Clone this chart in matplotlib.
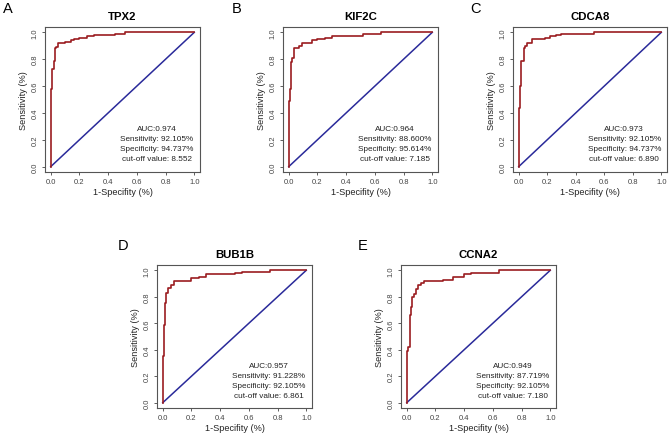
import matplotlib.pyplot as plt
import numpy as np

plt.rcParams['font.family'] = ['Liberation Sans', 'DejaVu Sans']

genes = ["TPX2", "KIF2C", "CDCA8", "BUB1B", "CCNA2"]
letters = ["A", "B", "C", "D", "E"]

# step points (false positive rate, true positive rate)
fpr_tpx2 = [0, 0, 0.01, 0.02, 0.03, 0.04, 0.05, 0.10, 0.14, 0.16, 0.20, 0.25, 0.30, 0.45, 0.52, 1.0]
tpr_tpx2 = [0, 0.58, 0.73, 0.79, 0.88, 0.89, 0.92, 0.93, 0.94, 0.95, 0.96, 0.97, 0.98, 0.99, 1.0, 1.0]

fpr_kif2c = [0, 0, 0.01, 0.015, 0.025, 0.035, 0.04, 0.07, 0.09, 0.16, 0.20, 0.25, 0.30, 0.52, 0.64, 1.0]
tpr_kif2c = [0, 0.49, 0.58, 0.78, 0.81, 0.85, 0.88, 0.90, 0.92, 0.94, 0.95, 0.96, 0.97, 0.99, 1.0, 1.0]

fpr_cdca8 = [0, 0, 0.007, 0.016, 0.035, 0.045, 0.055, 0.09, 0.185, 0.22, 0.26, 0.30, 0.53, 1.0]
tpr_cdca8 = [0, 0.44, 0.60, 0.79, 0.88, 0.90, 0.92, 0.95, 0.96, 0.97, 0.98, 0.99, 1.0, 1.0]

fpr_bub1b = [0, 0, 0.007, 0.015, 0.025, 0.04, 0.06, 0.075, 0.20, 0.25, 0.30, 0.50, 0.55, 0.75, 1.0]
tpr_bub1b = [0, 0.35, 0.59, 0.75, 0.83, 0.87, 0.89, 0.92, 0.94, 0.95, 0.97, 0.98, 0.99, 1.0, 1.0]

fpr_ccna2 = [0, 0, 0.01, 0.02, 0.03, 0.035, 0.05, 0.065, 0.075, 0.10, 0.12, 0.25, 0.32, 0.40, 0.45, 0.64, 1.0]
tpr_ccna2 = [0, 0.39, 0.42, 0.66, 0.72, 0.80, 0.82, 0.86, 0.89, 0.905, 0.92, 0.93, 0.95, 0.97, 0.98, 1.0, 1.0]

auc = ["0.974", "0.964", "0.973", "0.957", "0.949"]
sens = ["92.105%", "88.600%", "92.105%", "91.228%", "87.719%"]
spec = ["94.737%", "95.614%", "94.737%", "92.105%", "92.105%"]
cutoff = ["8.552", "7.185", "6.890", "6.861", "7.180"]

curves = [(fpr_tpx2, tpr_tpx2), (fpr_kif2c, tpr_kif2c), (fpr_cdca8, tpr_cdca8),
          (fpr_bub1b, tpr_bub1b), (fpr_ccna2, tpr_ccna2)]

W, H = 669, 435
# axes boxes in pixels: left, top, right, bottom
boxes = [(45, 28, 200, 173), (283, 28, 438, 173), (513, 28, 667, 173),
         (157, 266, 312, 409), (401, 266, 556, 409)]
letter_pos = [(3, 9), (232, 9), (470, 9), (118, 246), (358, 246)]

fig = plt.figure(figsize=(W / 100, H / 100), dpi=100)

for i in range(5):
    l, t, r, b = boxes[i]
    ax = fig.add_axes([l / W, 1 - b / H, (r - l) / W, (b - t) / H])
    fpr, tpr = curves[i]
    ax.plot([0, 1], [0, 1], color="#2a2a9a", lw=1.1)
    ax.step(fpr, tpr, where="post", color="#9b1c20", lw=1.2)
    ax.set_xlim(-0.04, 1.04)
    ax.set_ylim(-0.04, 1.04)
    ticks = np.arange(0, 1.01, 0.2)
    ax.set_xticks(ticks)
    ax.set_yticks(ticks)
    ax.set_xticklabels(["%.1f" % v for v in ticks])
    ax.set_yticklabels(["%.1f" % v for v in ticks], rotation=90, va="center")
    ax.tick_params(labelsize=5.5, length=2.5, width=0.6, pad=2, colors="#444444")
    for s in ax.spines.values():
        s.set_color("#555555")
        s.set_linewidth(0.8)
    ax.set_xlabel("1-Specifity (%)", fontsize=6.6, labelpad=1, color="#222222")
    ax.set_ylabel("Sensitivity (%)", fontsize=6.6, labelpad=3, color="#222222")
    ax.set_title(genes[i], fontsize=8.2, fontweight="bold", pad=6)
    txt = ("AUC:" + auc[i] + "\nSensitivity: " + sens[i] +
           "\nSpecificity: " + spec[i] + "\ncut-off value: " + cutoff[i])
    ax.text(0.74, 0.17, txt, ha="center", va="center", fontsize=5.9,
            linespacing=1.6, color="#222222")
    fig.text(letter_pos[i][0] / W, 1 - letter_pos[i][1] / H, letters[i],
             fontsize=10.5, va="center", ha="left")

fig.savefig("out.png", dpi=100)
